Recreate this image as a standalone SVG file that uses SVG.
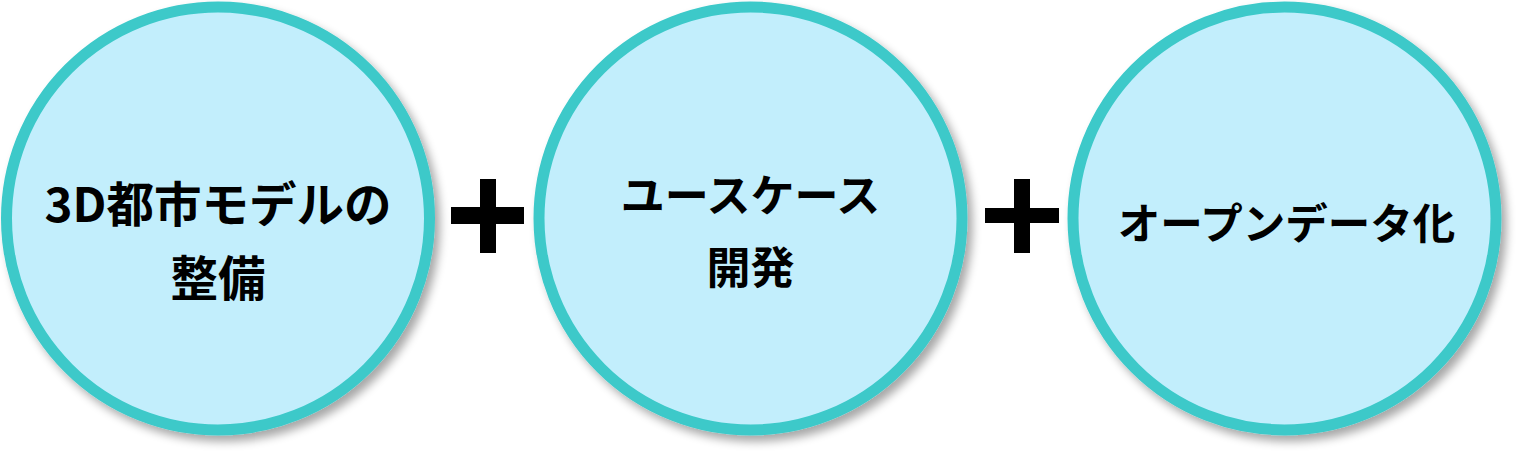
<svg xmlns="http://www.w3.org/2000/svg" width="1520" height="453" viewBox="0 0 1520 453">
<defs>
<filter id="sh" x="-10%" y="-10%" width="125%" height="125%">
<feGaussianBlur in="SourceAlpha" stdDeviation="5"/>
<feOffset dx="5" dy="6" result="b"/>
<feComponentTransfer><feFuncA type="linear" slope="0.35"/></feComponentTransfer>
<feMerge><feMergeNode/><feMergeNode in="SourceGraphic"/></feMerge>
</filter>
</defs>
<style>
.c{fill:#C2EEFC;stroke:#3CC9C9;stroke-width:11;filter:url(#sh)}
.t{font-family:"Noto Sans CJK JP","Noto Sans",sans-serif;font-weight:bold;font-size:44px;fill:#000;text-anchor:middle}
.p{fill:#000}
</style>
<rect width="1520" height="453" fill="#fff"/>
<g id="node1">
<circle class="c" cx="218" cy="218.5" r="211.5"/>
<text class="t" x="218" y="222" style="font-size:47.5px">3D都市モデルの</text>
<text class="t" x="218" y="296" style="font-size:47.5px">整備</text>
</g>
<g id="node2">
<circle class="c" cx="750.5" cy="218.5" r="211.5"/>
<text class="t" x="750.5" y="212">ユースケース</text>
<text class="t" x="750.5" y="284">開発</text>
</g>
<g id="node3">
<circle class="c" cx="1284.5" cy="218.5" r="211.5"/>
<text class="t" x="1286.5" y="239" style="font-size:42.5px">オープンデータ化</text>
</g>
<g id="connectors">
<path class="p" d="M480 179h16v28h28v17h-28v29h-16v-29h-29v-17h29z"/>
<path class="p" d="M1014 179h16v29h29v15h-29v30h-16v-30h-29v-15h29z"/>
</g>
</svg>
